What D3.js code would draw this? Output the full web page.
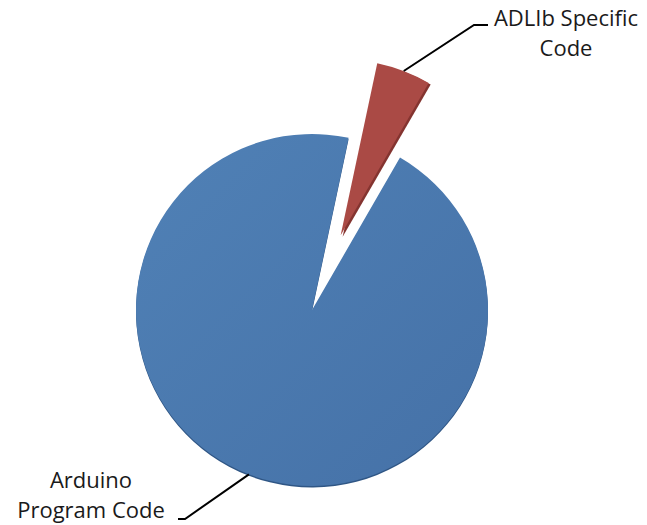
<!DOCTYPE html>
<html>
<head>
<meta charset="utf-8">
<script src="https://cdn.jsdelivr.net/npm/d3@7"></script>
<style>
  html, body { margin: 0; padding: 0; background: #ffffff; }
  svg { display: block; }
  text { font-family: "Open Sans", "Liberation Sans", sans-serif; fill: #1a1a1a; }
</style>
</head>
<body>
<svg id="chart" width="647" height="525"></svg>
<script>
// ---- data ----
const categories = ["Arduino Program Code", "ADLIb Specific Code"];
const values = [95, 5];
const labelLines = [["Arduino", "Program Code"], ["ADLIb Specific", "Code"]];
const colors = ["#4a78ae", "#aa4a45"];
const edgeColors = ["#2f5685", "#843430"];

// ---- layout ----
const W = 647, H = 525;
const cx = 312, cy = 310, R = 176;
const rot = 30 * Math.PI / 180;
const explode = [0, 80];

const svg = d3.select("#chart");

const defs = svg.append("defs");
const gradB = defs.append("linearGradient").attr("id", "gB")
  .attr("x1", "0%").attr("y1", "0%").attr("x2", "100%").attr("y2", "100%");
gradB.append("stop").attr("offset", "0%").attr("stop-color", "#5081b6");
gradB.append("stop").attr("offset", "100%").attr("stop-color", "#4571a7");

const pie = d3.pie().sort(null).value(d => d)
  .startAngle(rot).endAngle(rot + 2 * Math.PI);
const arcs = pie(values);
const arc = d3.arc().innerRadius(0).outerRadius(R);

const g = svg.append("g").attr("transform", `translate(${cx},${cy})`);

function offset(d, i) {
  const m = (d.startAngle + d.endAngle) / 2;
  return [Math.sin(m) * explode[i], -Math.cos(m) * explode[i]];
}

// side/edge shading (3D bevel)
g.selectAll("path.edge").data(arcs).enter().append("path")
  .attr("class", "edge")
  .attr("d", arc)
  .attr("fill", (d, i) => edgeColors[i])
  .attr("transform", (d, i) => {
    const [ox, oy] = offset(d, i);
    return i === 1 ? `translate(${ox + 2},${oy + 1.5})` : `translate(${ox},${oy + 1.5})`;
  });

g.selectAll("path.slice").data(arcs).enter().append("path")
  .attr("class", "slice")
  .attr("d", arc)
  .attr("fill", (d, i) => i === 0 ? "url(#gB)" : colors[i])
  .attr("transform", (d, i) => {
    const [ox, oy] = offset(d, i);
    return `translate(${ox},${oy})`;
  });

// ---- leader lines and labels ----
const labelPos = [
  { elbow: [-127, 209], end: [-134, 209], tx: 91 - cx, ty: [488 - cy, 518 - cy] },
  { elbow: [162, -285], end: [176, -285], tx: 566 - cx, ty: [26 - cy, 56 - cy] }
];

arcs.forEach((d, i) => {
  const m = (d.startAngle + d.endAngle) / 2;
  const [ox, oy] = offset(d, i);
  const p0 = [ox + Math.sin(m) * R, oy - Math.cos(m) * R];
  const lp = labelPos[i];
  g.append("path")
    .attr("d", d3.line()([p0, lp.elbow, lp.end]))
    .attr("fill", "none")
    .attr("stroke", "#000")
    .attr("stroke-width", 2);
  labelLines[i].forEach((t, k) => {
    g.append("text")
      .attr("x", lp.tx)
      .attr("y", lp.ty[k])
      .attr("text-anchor", "middle")
      .style("font-size", "22px")
      .text(t);
  });
});
</script>
</body>
</html>
